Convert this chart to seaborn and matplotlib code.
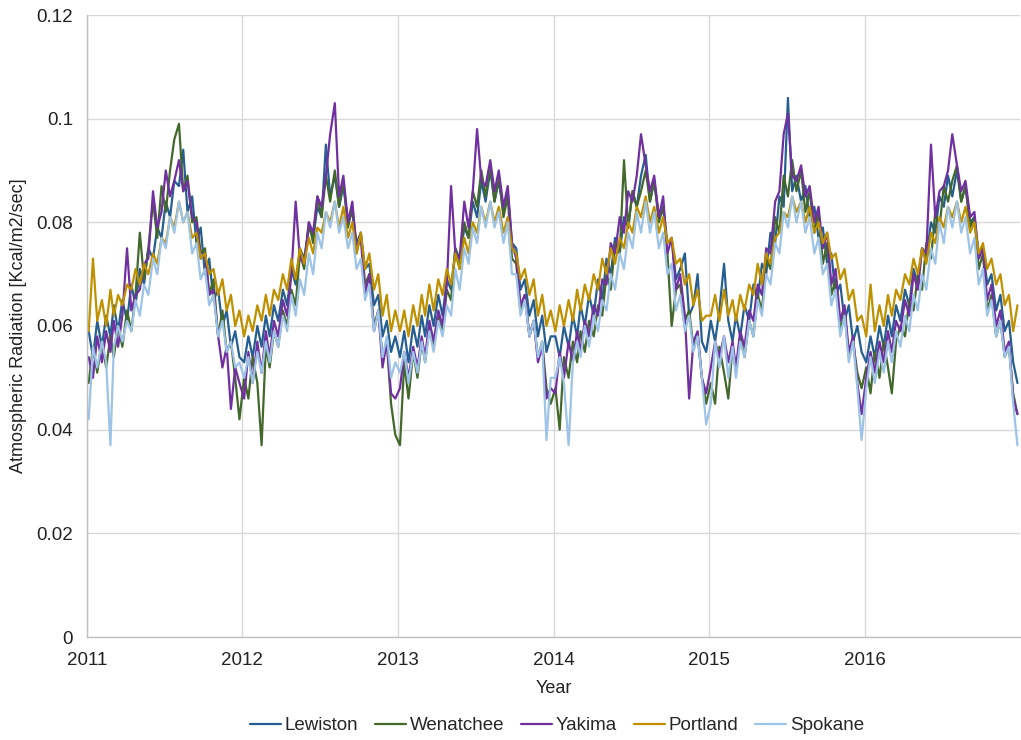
import matplotlib
matplotlib.use("Agg")
import matplotlib.pyplot as plt
import matplotlib.dates as mdates
from matplotlib.ticker import FuncFormatter
import pandas as pd
import seaborn as sns

# Values in milli-units (x 0.001 Kcal/m2/sec), three samples per month (days 5, 15, 25), 2011-2016
lewiston = [
    59,54,61,56,62,58,64,59,65,61, 68,64,71,68,75,73,79,77,84,81, 88,87,94,82,85,76,79,70,73,65, 67,60,63,56,59,54,
    53,58,54,60,56,62,58,64,61,67, 64,71,68,75,73,79,77,83,81,95, 85,89,83,87,80,82,76,78,71,72, 64,66,58,61,55,58,
    54,59,53,60,56,62,58,64,60,66, 62,69,67,75,73,79,77,84,81,88, 84,90,84,88,82,86,76,75,67,69, 62,65,58,62,55,58,
    58,54,60,56,62,58,64,60,66,62, 69,65,73,70,77,74,81,79,86,83, 89,93,84,88,81,83,76,77,69,71, 74,62,64,70,57,55,
    61,57,63,72,61,57,62,58,64,61, 68,65,72,70,78,76,85,83,104,86, 89,84,87,81,83,77,79,72,74,66, 68,61,64,57,60,55,
    53,58,54,60,56,62,58,64,61,67, 64,71,68,75,73,80,78,85,83,89, 85,90,84,87,80,81,74,75,68,70, 63,66,59,61,53,49,
]
wenatchee = [
    49,56,51,57,52,58,54,60,56,63, 59,66,78,69,75,84,77,87,82,90, 96,99,86,89,80,81,74,75,66,69, 58,63,55,57,50,42,
    50,46,54,49,37,56,52,59,56,63, 60,67,64,74,71,80,76,85,81,89, 84,90,83,88,79,83,74,78,68,70, 60,63,54,57,45,39,
    37,53,46,55,50,57,53,60,56,62, 59,67,65,75,71,80,77,86,83,90, 85,91,84,89,81,85,73,72,63,66, 58,61,54,57,48,45,
    48,40,54,50,57,53,59,55,61,58, 64,62,70,67,76,74,92,79,86,83, 86,90,84,88,80,83,74,60,67,68, 61,63,56,58,50,45,
    49,45,56,51,46,56,51,58,54,61, 58,66,63,73,71,81,78,89,85,92, 86,90,82,86,78,82,72,76,66,69, 59,63,54,57,51,48,
    52,47,55,50,57,52,47,57,60,58, 65,63,70,67,76,73,82,79,87,84, 88,91,84,87,79,81,71,74,63,66, 58,61,54,56,47,43,
]
yakima = [
    54,50,58,53,59,55,61,56,62,75, 63,66,67,72,73,86,79,82,90,85, 88,92,86,88,81,80,73,74,66,67, 58,52,56,44,52,49,
    46,55,49,57,51,59,54,61,58,65, 62,70,84,73,72,80,78,85,83,89, 97,103,85,89,80,84,75,77,66,70, 59,63,52,57,47,46,
    48,55,50,56,52,58,54,61,57,63, 60,68,87,74,73,84,79,86,98,88, 87,92,86,90,83,87,76,73,64,66, 58,61,53,56,46,48,
    47,55,50,57,53,59,55,61,58,64, 62,69,68,76,74,81,78,86,84,89, 97,91,86,89,81,85,74,77,67,70, 62,46,57,59,50,47,
    52,57,54,58,53,57,52,59,56,63, 61,68,66,75,74,84,86,97,101,89, 88,91,85,87,80,83,75,78,68,71, 61,64,55,58,49,43,
    50,55,51,57,53,59,55,61,59,65, 62,70,67,75,74,95,81,86,87,90, 97,91,86,88,81,82,73,75,65,68, 60,63,55,57,46,43,
]
portland = [
    59,73,61,65,60,67,62,66,64,68, 67,71,68,72,70,74,72,77,76,81, 79,84,80,82,77,78,73,74,70,71, 66,69,63,66,60,63,
    58,62,59,64,61,66,62,67,65,70, 67,73,69,75,72,77,74,79,78,82, 80,84,79,83,77,80,74,78,71,74, 67,70,62,66,59,63,
    59,63,58,64,60,66,62,68,63,69, 66,71,68,74,71,77,74,80,78,83, 80,84,80,83,78,81,75,74,69,71, 66,69,62,66,60,63,
    59,64,60,65,61,67,63,68,65,70, 67,73,70,75,72,77,75,80,78,83, 81,85,80,83,78,81,76,77,72,73, 68,70,64,67,61,62,
    62,66,61,67,62,65,61,66,63,68, 66,72,68,74,72,77,78,82,81,85, 82,84,80,83,78,80,76,78,73,74, 69,71,65,67,61,62,
    58,68,59,64,60,66,62,67,65,70, 68,73,70,75,72,78,76,81,79,83, 81,84,80,83,78,80,74,76,71,73, 68,70,64,66,59,64,
]
spokane = [
    42,56,52,57,53,37,56,60,57,61, 59,65,62,68,66,73,70,77,75,81, 78,84,80,82,74,76,69,71,64,66, 58,61,55,57,52,53,
    50,54,49,55,51,57,53,59,56,62, 59,66,62,69,66,74,70,78,75,82, 79,84,78,81,75,78,71,73,65,68, 59,63,54,58,50,53,
    51,55,49,55,51,57,53,59,55,61, 58,64,62,71,67,75,72,79,76,83, 79,84,79,82,76,80,70,70,62,65, 58,61,54,57,38,50,
    50,54,49,37,53,57,54,60,56,62, 59,65,63,70,67,74,71,78,75,82, 78,84,78,82,75,78,70,72,63,66, 59,62,55,58,50,41,
    45,57,52,58,50,56,50,57,54,61, 58,65,62,70,68,76,74,82,79,85, 80,84,78,81,74,77,70,72,64,67, 58,62,53,57,48,38,
    48,54,49,55,51,57,53,59,56,62, 59,66,63,70,67,75,72,80,76,83, 79,84,78,81,74,77,68,71,62,65, 58,61,54,56,45,37,
]
stations = ["Lewiston", "Wenatchee", "Yakima", "Portland", "Spokane"]
colors = ["#255E91", "#43682B", "#7030A0", "#BF9000", "#9DC3E6"]
years = [2011, 2012, 2013, 2014, 2015, 2016]
sample_days = [5, 15, 25]
y_ticks = [0, 0.02, 0.04, 0.06, 0.08, 0.1, 0.12]

dates = pd.to_datetime([f"{y}-{m:02d}-{d:02d}" for y in years for m in range(1, 13) for d in sample_days])
series = dict(zip(stations, [lewiston, wenatchee, yakima, portland, spokane]))
frames = []
for name in stations:
    frames.append(pd.DataFrame({"Date": dates, "Station": name,
                                "Value": [v / 1000.0 for v in series[name]]}))
df = pd.concat(frames, ignore_index=True)

sns.set_theme(style="white")
plt.rcParams["font.family"] = ["Liberation Sans", "DejaVu Sans"]

fig = plt.figure(figsize=(10.21, 7.40), dpi=100)
ax = fig.add_axes([87 / 1021, 1 - 637 / 740, (1020 - 87) / 1021, (637 - 15) / 740])

sns.lineplot(data=df, x="Date", y="Value", hue="Station", hue_order=stations,
             palette=dict(zip(stations, colors)), estimator=None, linewidth=1.6,
             ax=ax, legend=True)

ax.set_xlim(pd.Timestamp("2011-01-01"), pd.Timestamp("2016-12-31"))
ax.set_ylim(0, 0.12)
ax.set_yticks(y_ticks)
ax.yaxis.set_major_formatter(FuncFormatter(lambda v, p: f"{v:g}"))
ax.set_xticks(pd.to_datetime([f"{y}-01-01" for y in years]))
ax.xaxis.set_major_formatter(mdates.DateFormatter("%Y"))

ax.grid(True, color="#D9D9D9", linewidth=1.0)
ax.set_axisbelow(True)
for s in ["top", "right"]:
    ax.spines[s].set_visible(False)
for s in ["left", "bottom"]:
    ax.spines[s].set_color("#BFBFBF")
    ax.spines[s].set_linewidth(1.0)
ax.tick_params(axis="y", length=0, labelsize=13.5, colors="#222222", pad=10)
ax.tick_params(axis="x", length=0, labelsize=13.5, colors="#222222", pad=11)

ax.set_xlabel("Year", fontsize=13, color="#222222", labelpad=8)
ax.set_ylabel("Atmospheric Radiation [Kcal/m2/sec]", fontsize=13, color="#222222", labelpad=7)

handles, labels = ax.get_legend_handles_labels()
if ax.legend_:
    ax.legend_.remove()
fig.legend(handles, labels, loc="lower center", bbox_to_anchor=(557 / 1021, -0.015),
           ncol=5, frameon=False, fontsize=13.5, handlelength=1.65, handletextpad=0.2,
           columnspacing=0.9)

fig.savefig("out.png", dpi=100)
